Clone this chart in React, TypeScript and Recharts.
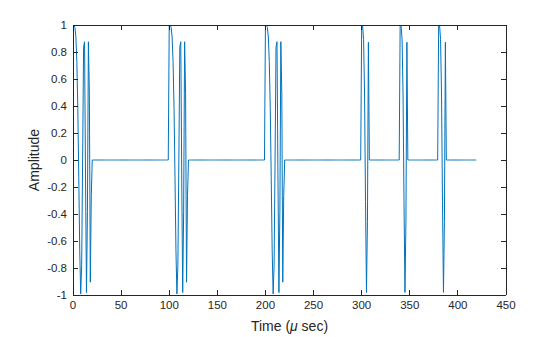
import React from 'react';
import { LineChart, Line, XAxis, YAxis, Label } from 'recharts';

// Sampled waveform (1 sample per microsecond)
const sampleCount = 420;
const pulseStarts = [0, 100, 200, 300, 340, 380];
const pulseKinds = ['long', 'long', 'long', 'short', 'short', 'short'];
// 20-sample pulse values
const longPulse = [
  1, 0.999, 0.982, 0.911, 0.729, 0.383, -0.125, -0.673, -0.992, -0.78,
  0.0, 0.836, 0.876, -0.11, -0.982, -0.383, 0.876, 0.495, -0.905, -0.264,
];
// 8-sample pulse values
const shortPulse = [1, 0.993, 0.891, 0.489, -0.309, -0.981, -0.454, 0.872];

const xTicks = [0, 50, 100, 150, 200, 250, 300, 350, 400, 450];
const yTicks = [-1, -0.8, -0.6, -0.4, -0.2, 0, 0.2, 0.4, 0.6, 0.8, 1];
const yTickLabels = ['-1', '-0.8', '-0.6', '-0.4', '-0.2', '0', '0.2', '0.4', '0.6', '0.8', '1'];

const data = (() => {
  const amp: number[] = new Array(sampleCount).fill(0);
  pulseStarts.forEach((s, i) => {
    const p = pulseKinds[i] === 'long' ? longPulse : shortPulse;
    p.forEach((v, j) => {
      amp[s + j] = v;
    });
  });
  return amp.map((a, t) => ({ t, a }));
})();

const FONT = '"Liberation Sans", Arial, Helvetica, sans-serif';
const TEXT = '#262626';
const AXIS = '#262626';
const LINE = '#0072BD';
const TICK = 5;
const TICK_FS = 11.5;
const TITLE_FS = 14;

const BottomTick = (props: any) => {
  const { x, y, payload } = props;
  return (
    <g>
      <line x1={x} x2={x} y1={y} y2={y - TICK} stroke={AXIS} strokeWidth={1} shapeRendering="crispEdges" />
      <text x={x} y={y + 6} dy="0.71em" textAnchor="middle" fill={TEXT} fontSize={TICK_FS} fontFamily={FONT}>
        {String(payload.value)}
      </text>
    </g>
  );
};

const TopTick = (props: any) => {
  const { x, y } = props;
  return <line x1={x} x2={x} y1={y} y2={y + TICK} stroke={AXIS} strokeWidth={1} shapeRendering="crispEdges" />;
};

const LeftTick = (props: any) => {
  const { x, y, payload } = props;
  const idx = yTicks.indexOf(payload.value);
  const label = idx >= 0 ? yTickLabels[idx] : String(payload.value);
  return (
    <g>
      <line x1={x} x2={x + TICK} y1={y} y2={y} stroke={AXIS} strokeWidth={1} shapeRendering="crispEdges" />
      <text x={x - 6} y={y} dy="0.35em" textAnchor="end" fill={TEXT} fontSize={TICK_FS} fontFamily={FONT}>
        {label}
      </text>
    </g>
  );
};

const RightTick = (props: any) => {
  const { x, y } = props;
  return <line x1={x} x2={x - TICK} y1={y} y2={y} stroke={AXIS} strokeWidth={1} shapeRendering="crispEdges" />;
};

const XTitle = (props: any) => {
  const vb = props.viewBox || {};
  const cx = vb.x + vb.width / 2;
  const cy = vb.y + 31;
  return (
    <text x={cx} y={cy} dy="0.35em" textAnchor="middle" fill={TEXT} fontSize={TITLE_FS} fontFamily={FONT}>
      Time (<tspan fontStyle="italic">μ</tspan> sec)
    </text>
  );
};

const YTitle = (props: any) => {
  const vb = props.viewBox || {};
  const cx = vb.x + 34;
  const cy = vb.y + vb.height / 2;
  return (
    <text
      x={cx}
      y={cy}
      dy="0.35em"
      textAnchor="middle"
      fill={TEXT}
      fontSize={TITLE_FS}
      fontFamily={FONT}
      transform={`rotate(-90, ${cx}, ${cy})`}
    >
      Amplitude
    </text>
  );
};

export default function App() {
  const axisLine = { stroke: AXIS, strokeWidth: 1, shapeRendering: 'crispEdges' } as any;
  return (
    <div style={{ position: 'fixed', left: 0, top: 0, width: 560, height: 337, background: '#ffffff' }}>
      <LineChart width={560} height={337} data={data} margin={{ top: 24, right: 53, bottom: 0, left: 0 }}>
        <XAxis
          xAxisId="bottom"
          dataKey="t"
          type="number"
          domain={[0, 450]}
          ticks={xTicks}
          interval={0}
          allowDataOverflow
          height={42}
          tickSize={0}
          tickMargin={0}
          tickLine={false}
          axisLine={axisLine}
          tick={<BottomTick />}
        >
          <Label content={<XTitle />} />
        </XAxis>
        <XAxis
          xAxisId="top"
          orientation="top"
          dataKey="t"
          type="number"
          domain={[0, 450]}
          ticks={xTicks}
          interval={0}
          allowDataOverflow
          height={1}
          tickSize={0}
          tickMargin={0}
          tickLine={false}
          axisLine={axisLine}
          tick={<TopTick />}
        />
        <YAxis
          yAxisId="left"
          type="number"
          domain={[-1, 1]}
          ticks={yTicks}
          interval={0}
          allowDataOverflow
          width={73}
          tickSize={0}
          tickMargin={0}
          tickLine={false}
          axisLine={axisLine}
          tick={<LeftTick />}
        >
          <Label content={<YTitle />} />
        </YAxis>
        <YAxis
          yAxisId="right"
          orientation="right"
          type="number"
          domain={[-1, 1]}
          ticks={yTicks}
          interval={0}
          allowDataOverflow
          width={1}
          tickSize={0}
          tickMargin={0}
          tickLine={false}
          axisLine={axisLine}
          tick={<RightTick />}
        />
        <Line
          xAxisId="top"
          yAxisId="right"
          dataKey="a"
          type="linear"
          stroke="none"
          strokeWidth={0}
          dot={false}
          activeDot={false}
          legendType="none"
          isAnimationActive={false}
        />
        <Line
          xAxisId="bottom"
          yAxisId="left"
          dataKey="a"
          type="linear"
          stroke={LINE}
          strokeWidth={1}
          dot={false}
          activeDot={false}
          isAnimationActive={false}
        />
      </LineChart>
    </div>
  );
}
